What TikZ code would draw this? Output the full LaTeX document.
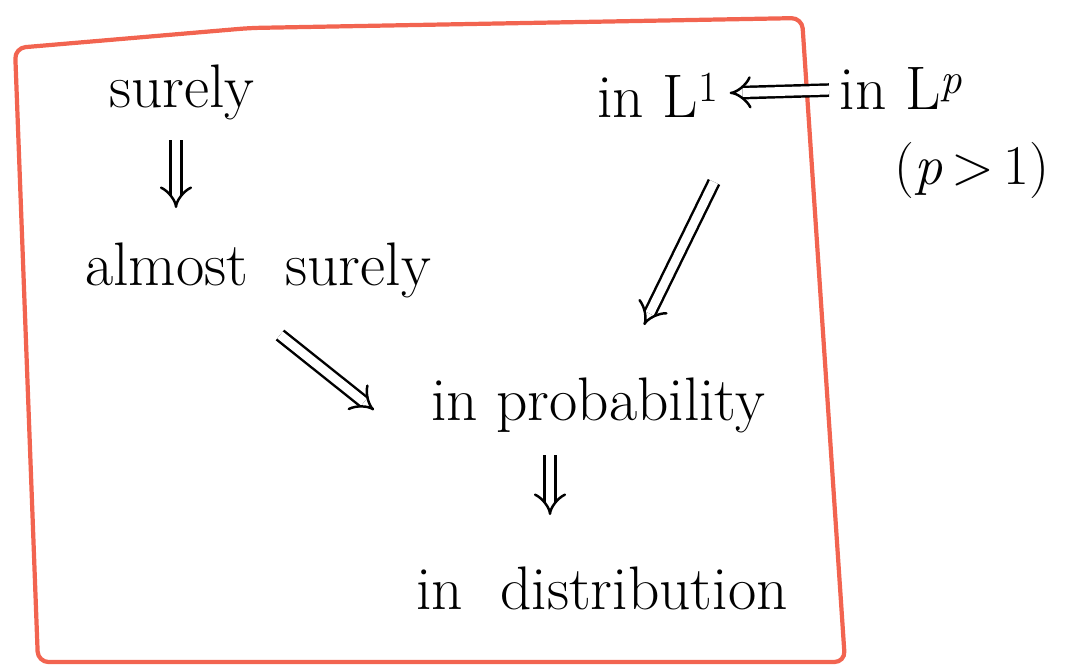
\documentclass[tikz,border=0pt]{standalone}
\usetikzlibrary{arrows.meta}
\definecolor{boxred}{HTML}{F26450}
\begin{document}
\begin{tikzpicture}[x=0.02cm, y=-0.02cm, font=\fontsize{35}{42}\selectfont,
  word/.style={inner sep=2pt},
  impl/.style={double, double distance=5pt, line width=1.4pt, -{Implies[length=8pt]}}]
  \useasboundingbox (0,0) rectangle (1078,666);
  % frame
  \draw[boxred, line width=2.4pt, rounded corners=6pt]
    (15,48) -- (250,28) -- (802,18) -- (845,662) -- (38,662) -- cycle;
  % modes of convergence
  \node[word] (sure) at (182,92) {surely};
  \node[word] (as) at (258,270) {almost\ \ surely};
  \node[word] (lone) at (658,95) {in L\textsuperscript{1}};
  \node[word, anchor=west] (lp) at (836,88) {in L\textsuperscript{\textit{p}}};
  \node[word, font=\fontsize{32}{38}\selectfont] (pcond) at (972,170) {(\textit{p}\,>\,1)};
  \node[word] (prob) at (598,405) {in probability};
  \node[word] (dist) at (602,588) {in \ distribution};
  % implications
  \coordinate (sureout) at (176,140);
  \coordinate (asin) at (176,208);
  \draw[impl] (sureout) -- (asin);
  \draw[impl, shorten >=4pt, shorten <=4pt] (lp) -- (lone);
  \coordinate (asout) at (280,335);
  \coordinate (probwest) at (374,410);
  \draw[impl] (asout) -- (probwest);
  \coordinate (loneout) at (714,182);
  \coordinate (probin) at (644,325);
  \draw[impl] (loneout) -- (probin);
  \coordinate (probout) at (550,455);
  \coordinate (distin) at (550,515);
  \draw[impl] (probout) -- (distin);
\end{tikzpicture}
\end{document}
